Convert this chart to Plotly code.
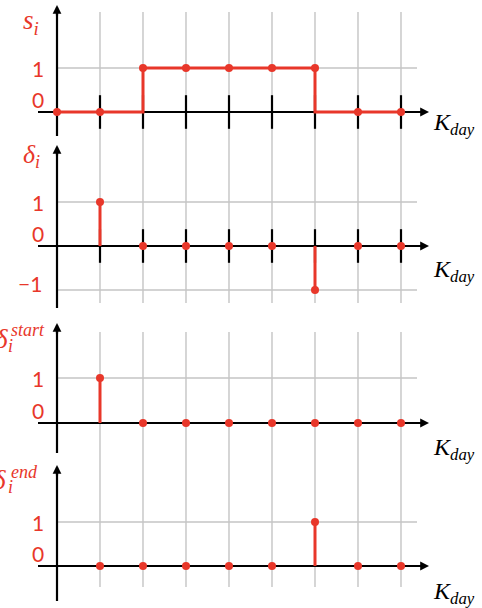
import plotly.graph_objects as go

# ---------------- data ----------------
k_all = [0, 1, 2, 3, 4, 5, 6, 7, 8]
s_vals = [0, 0, 1, 1, 1, 1, 1, 0, 0]
k_imp = [1, 2, 3, 4, 5, 6, 7, 8]
delta_vals = [1, 0, 0, 0, 0, -1, 0, 0]
start_vals = [1, 0, 0, 0, 0, 0, 0, 0]
end_vals = [0, 0, 0, 0, 0, 1, 0, 0]
tick_k = [1, 2, 3, 4, 5, 6, 7, 8]
grid_k = [1, 2, 3, 4, 5, 6, 7, 8]

RED = "#E8372A"
BLACK = "#000000"
GRID = "#c4c4c4"
W, H = 482, 608
X0, XU = 57, 43  # pixel of k=0, pixels per k


def px2x(p):
    return (p - X0) / XU


# panel layout (pixels)
panels = [
    dict(top=0, bottom=140, zero=112, unit=44, gtop=12, gbot=140, ytop=5, ybot=136,
         levels=[1], ticks=True, kday=121),
    dict(top=140, bottom=316, zero=246, unit=44, gtop=140, gbot=303, ytop=145, ybot=308,
         levels=[1, -1], ticks=True, kday=268),
    dict(top=316, bottom=460, zero=423, unit=45, gtop=332, gbot=460, ytop=323, ybot=453,
         levels=[1], ticks=False, kday=446),
    dict(top=460, bottom=608, zero=566, unit=44, gtop=460, gbot=587, ytop=465, ybot=601,
         levels=[1], ticks=False, kday=590),
]


def px2y(P, p):
    return (P["zero"] - p) / P["unit"]


def step_path(ks, vals):
    xs, ys = [ks[0]], [vals[0]]
    for i in range(1, len(ks)):
        if vals[i] != vals[i - 1]:
            xv = ks[i] if vals[i] > vals[i - 1] else ks[i - 1]
            xs += [xv, xv]
            ys += [vals[i - 1], vals[i]]
        xs.append(ks[i])
        ys.append(vals[i])
    return xs, ys


def stems(ks, vals):
    xs, ys = [], []
    for kk, v in zip(ks, vals):
        if v != 0:
            xs += [kk, kk, None]
            ys += [0, v, None]
    return xs, ys


fig = go.Figure()
annotations = []
layout_axes = {}

series = [
    ("step", k_all, s_vals),
    ("stem", k_imp, delta_vals),
    ("stem", k_imp, start_vals),
    ("stem", k_imp, end_vals),
]

for idx, P in enumerate(panels):
    n = idx + 1
    xa = "x" if n == 1 else f"x{n}"
    ya = "y" if n == 1 else f"y{n}"
    layout_axes[f"xaxis{'' if n == 1 else n}"] = dict(
        domain=[0, 1], range=[px2x(0), px2x(W)], visible=False, anchor=ya, fixedrange=True)
    layout_axes[f"yaxis{'' if n == 1 else n}"] = dict(
        domain=[1 - P["bottom"] / H, 1 - P["top"] / H],
        range=[px2y(P, P["bottom"]), px2y(P, P["top"])], visible=False, anchor=xa, fixedrange=True)

    # vertical grid
    gx, gy = [], []
    for g in grid_k:
        gx += [g, g, None]
        gy += [px2y(P, P["gbot"]), px2y(P, P["gtop"]), None]
    fig.add_trace(go.Scatter(x=gx, y=gy, xaxis=xa, yaxis=ya, mode="lines",
                             line=dict(color=GRID, width=1.4), hoverinfo="skip", showlegend=False))
    # horizontal grid
    hx, hy = [], []
    for lv in P["levels"]:
        hx += [0, px2x(417), None]
        hy += [lv, lv, None]
    fig.add_trace(go.Scatter(x=hx, y=hy, xaxis=xa, yaxis=ya, mode="lines",
                             line=dict(color=GRID, width=1.4), hoverinfo="skip", showlegend=False))
    # axis lines
    fig.add_trace(go.Scatter(x=[px2x(38), px2x(424), None, 0, 0],
                             y=[0, 0, None, px2y(P, P["ybot"]), px2y(P, P["ytop"] + 4)],
                             xaxis=xa, yaxis=ya, mode="lines",
                             line=dict(color=BLACK, width=2.2), hoverinfo="skip", showlegend=False))
    annotations.append(dict(xref=xa, yref=ya, x=px2x(429), y=0, ax=-12, ay=0, text="",
                            showarrow=True, arrowhead=2, arrowsize=0.8, arrowwidth=2.2,
                            arrowcolor=BLACK))
    annotations.append(dict(xref=xa, yref=ya, x=0, y=px2y(P, P["ytop"]), ax=0, ay=12, text="",
                            showarrow=True, arrowhead=2, arrowsize=0.8, arrowwidth=2.2,
                            arrowcolor=BLACK))
    # ticks
    if P["ticks"]:
        fig.add_trace(go.Scatter(x=tick_k, y=[0] * len(tick_k), xaxis=xa, yaxis=ya, mode="markers",
                                 marker=dict(symbol="line-ns", size=24,
                                             line=dict(color=BLACK, width=2.2)),
                                 hoverinfo="skip", showlegend=False, cliponaxis=False))
    # data
    kind, ks, vals = series[idx]
    if kind == "step":
        lx, ly = step_path(ks, vals)
    else:
        lx, ly = stems(ks, vals)
    fig.add_trace(go.Scatter(x=lx, y=ly, xaxis=xa, yaxis=ya, mode="lines",
                             line=dict(color=RED, width=3), hoverinfo="skip", showlegend=False))
    fig.add_trace(go.Scatter(x=ks, y=vals, xaxis=xa, yaxis=ya, mode="markers",
                             marker=dict(color=RED, size=8), showlegend=False, cliponaxis=False))

    # level labels
    for lv in P["levels"]:
        txt = "1" if lv == 1 else "\u22121"
        xpos = 38 if lv == 1 else 30
        annotations.append(dict(xref=xa, yref=ya, x=px2x(xpos), y=lv, text=txt,
                                showarrow=False, yshift=(0 if lv == 1 else 7),
                                font=dict(family="Lato", size=21, color=RED)))
    annotations.append(dict(xref=xa, yref=ya, x=px2x(38), y=0, text="0", showarrow=False,
                            yshift=13, font=dict(family="Lato", size=21, color=RED)))
    # K_day
    annotations.append(dict(xref="paper", yref="paper", x=431 / W, y=1 - (P["kday"] + 3) / H,
                            xanchor="left", yanchor="middle", showarrow=False,
                            text="<i>K</i><sub><i>day</i></sub>",
                            font=dict(family="Liberation Serif", size=24, color=BLACK)))

SERIF = "Liberation Serif"


def pap(xp, yp, text, size, color=RED, xanchor="left"):
    return dict(xref="paper", yref="paper", x=xp / W, y=1 - yp / H, xanchor=xanchor,
                yanchor="middle", showarrow=False, text=text,
                font=dict(family=SERIF, size=size, color=color))


# panel symbols
annotations.append(pap(21, 22, "<i>s</i><sub><i>i</i></sub>", 27))
annotations.append(pap(21, 156, "<i>δ</i><sub><i>i</i></sub>", 26))
annotations.append(pap(-7, 339, "<i>δ</i>", 27))
annotations.append(pap(9, 330, "<i>start</i>", 18))
annotations.append(pap(6, 346, "<i>i</i>", 18))
annotations.append(pap(-9, 480, "<i>δ</i>", 27))
annotations.append(pap(9, 472, "<i>end</i>", 18))
annotations.append(pap(6, 487, "<i>i</i>", 18))

fig.update_layout(
    width=W, height=H, autosize=False,
    margin=dict(l=0, r=0, t=0, b=0),
    paper_bgcolor="white", plot_bgcolor="white",
    showlegend=False,
    annotations=annotations,
    **layout_axes,
)

fig.write_html("out.html", config={"displayModeBar": False},
               post_script="document.body.style.margin='0';")
